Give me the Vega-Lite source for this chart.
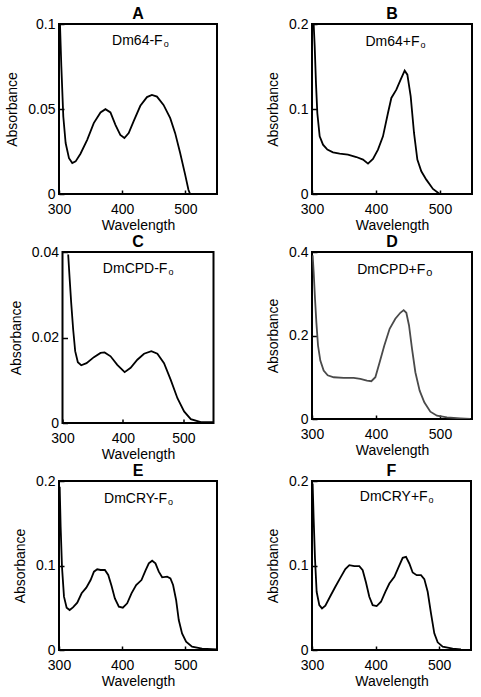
{
  "$schema": "https://vega.github.io/schema/vega-lite/v6.json",
  "background": "white",
  "padding": {"left": 4, "top": 5, "right": 5, "bottom": 5},
  "datasets": {
    "A": [
      {"wl": 301.6, "abs": 0.0994}, {"wl": 303.7, "abs": 0.075}, {"wl": 306.8, "abs": 0.0456}, {"wl": 310.5, "abs": 0.030},
      {"wl": 315.8, "abs": 0.0211}, {"wl": 321, "abs": 0.0182}, {"wl": 326.3, "abs": 0.0192}, {"wl": 334, "abs": 0.0237},
      {"wl": 344.6, "abs": 0.0319}, {"wl": 355, "abs": 0.0417}, {"wl": 365.7, "abs": 0.048}, {"wl": 373.5, "abs": 0.0499},
      {"wl": 381.4, "abs": 0.048}, {"wl": 389.3, "abs": 0.0407}, {"wl": 397, "abs": 0.0348}, {"wl": 403.5, "abs": 0.0329},
      {"wl": 410.3, "abs": 0.0358}, {"wl": 418, "abs": 0.0427}, {"wl": 428.7, "abs": 0.0519}, {"wl": 439.2, "abs": 0.057},
      {"wl": 447, "abs": 0.0583}, {"wl": 455, "abs": 0.0573}, {"wl": 465.4, "abs": 0.0524}, {"wl": 476, "abs": 0.0446},
      {"wl": 483.8, "abs": 0.0358}, {"wl": 491.7, "abs": 0.0241}, {"wl": 499.6, "abs": 0.0114}, {"wl": 504.8, "abs": 0.0025},
      {"wl": 507.5, "abs": 0}
    ],
    "B": [
      {"wl": 302.6, "abs": 0.2}, {"wl": 304.2, "abs": 0.174}, {"wl": 306.2, "abs": 0.1306}, {"wl": 308.3, "abs": 0.0953},
      {"wl": 312, "abs": 0.0678}, {"wl": 317.2, "abs": 0.058}, {"wl": 324, "abs": 0.0522}, {"wl": 332.8, "abs": 0.049},
      {"wl": 343.2, "abs": 0.0475}, {"wl": 356.2, "abs": 0.0463}, {"wl": 369.3, "abs": 0.0435}, {"wl": 379.7, "abs": 0.0404},
      {"wl": 387.5, "abs": 0.0357}, {"wl": 395.3, "abs": 0.0412}, {"wl": 403.1, "abs": 0.0522}, {"wl": 410.9, "abs": 0.0678},
      {"wl": 418.7, "abs": 0.0953}, {"wl": 424, "abs": 0.113}, {"wl": 431.8, "abs": 0.1227}, {"wl": 438.5, "abs": 0.1345},
      {"wl": 444.8, "abs": 0.1451}, {"wl": 449, "abs": 0.1404}, {"wl": 454.2, "abs": 0.1149}, {"wl": 459.4, "abs": 0.0718},
      {"wl": 464.6, "abs": 0.0404}, {"wl": 470.8, "abs": 0.0267}, {"wl": 478.6, "abs": 0.0169}, {"wl": 489, "abs": 0.0059},
      {"wl": 499.5, "abs": 0}
    ],
    "C": [
      {"wl": 309.4, "abs": 0.0394}, {"wl": 311.6, "abs": 0.0343}, {"wl": 314.4, "abs": 0.0281}, {"wl": 317.7, "abs": 0.0218},
      {"wl": 321, "abs": 0.0168}, {"wl": 325.4, "abs": 0.0142}, {"wl": 331, "abs": 0.0135}, {"wl": 339.8, "abs": 0.014},
      {"wl": 352, "abs": 0.0154}, {"wl": 363, "abs": 0.0164}, {"wl": 369.7, "abs": 0.0165}, {"wl": 379.6, "abs": 0.0156},
      {"wl": 390.7, "abs": 0.0136}, {"wl": 402.9, "abs": 0.0119}, {"wl": 412.8, "abs": 0.0129}, {"wl": 423.9, "abs": 0.0148},
      {"wl": 435, "abs": 0.0162}, {"wl": 447.1, "abs": 0.0168}, {"wl": 457.1, "abs": 0.0162}, {"wl": 468.1, "abs": 0.014},
      {"wl": 479.2, "abs": 0.0101}, {"wl": 490.3, "abs": 0.0058}, {"wl": 501.3, "abs": 0.0027}, {"wl": 512.4, "abs": 0.0009},
      {"wl": 529, "abs": 0.0002}, {"wl": 550, "abs": 0.0002}
    ],
    "D": [
      {"wl": 301, "abs": 0.392}, {"wl": 302.6, "abs": 0.352}, {"wl": 304.7, "abs": 0.288}, {"wl": 306.8, "abs": 0.232},
      {"wl": 309.4, "abs": 0.176}, {"wl": 313, "abs": 0.14}, {"wl": 318.2, "abs": 0.116}, {"wl": 324.5, "abs": 0.1048},
      {"wl": 333.9, "abs": 0.1}, {"wl": 349.5, "abs": 0.0984}, {"wl": 365.1, "abs": 0.0984}, {"wl": 375.5, "abs": 0.096},
      {"wl": 385.9, "abs": 0.092}, {"wl": 392.7, "abs": 0.0904}, {"wl": 399, "abs": 0.1}, {"wl": 405.7, "abs": 0.136},
      {"wl": 413, "abs": 0.176}, {"wl": 421.3, "abs": 0.216}, {"wl": 430.2, "abs": 0.24}, {"wl": 438, "abs": 0.2544},
      {"wl": 443.2, "abs": 0.2608}, {"wl": 447.4, "abs": 0.2544}, {"wl": 451.6, "abs": 0.224}, {"wl": 456.3, "abs": 0.168},
      {"wl": 461.5, "abs": 0.112}, {"wl": 468.2, "abs": 0.068}, {"wl": 475.5, "abs": 0.04}, {"wl": 484.9, "abs": 0.0176},
      {"wl": 495.3, "abs": 0.008}, {"wl": 510.9, "abs": 0.004}, {"wl": 531.8, "abs": 0.0016}, {"wl": 547.4, "abs": 0}
    ],
    "E": [
      {"wl": 301.1, "abs": 0.1933}, {"wl": 302.6, "abs": 0.146}, {"wl": 304.7, "abs": 0.0986}, {"wl": 307.9, "abs": 0.0631},
      {"wl": 312.1, "abs": 0.0501}, {"wl": 316.8, "abs": 0.0473}, {"wl": 322.1, "abs": 0.0505}, {"wl": 328.9, "abs": 0.056},
      {"wl": 335.8, "abs": 0.0671}, {"wl": 343.2, "abs": 0.0738}, {"wl": 350, "abs": 0.0828}, {"wl": 355.3, "abs": 0.0927},
      {"wl": 360.5, "abs": 0.0955}, {"wl": 365.8, "abs": 0.0947}, {"wl": 372.6, "abs": 0.0947}, {"wl": 377.9, "abs": 0.0888},
      {"wl": 383.2, "abs": 0.0757}, {"wl": 388.4, "abs": 0.0611}, {"wl": 394.7, "abs": 0.0513}, {"wl": 401, "abs": 0.0501},
      {"wl": 407.9, "abs": 0.0552}, {"wl": 414.7, "abs": 0.0671}, {"wl": 422.1, "abs": 0.0769}, {"wl": 430.5, "abs": 0.0828},
      {"wl": 436.8, "abs": 0.0939}, {"wl": 442.1, "abs": 0.1026}, {"wl": 447.4, "abs": 0.1057}, {"wl": 452.6, "abs": 0.1026},
      {"wl": 457.9, "abs": 0.0927}, {"wl": 463.2, "abs": 0.086}, {"wl": 471.1, "abs": 0.0868}, {"wl": 476.3, "abs": 0.0848},
      {"wl": 480.5, "abs": 0.0769}, {"wl": 485.3, "abs": 0.0592}, {"wl": 489.5, "abs": 0.0355}, {"wl": 494.7, "abs": 0.0197},
      {"wl": 501.1, "abs": 0.0099}, {"wl": 510.5, "abs": 0.0039}, {"wl": 526.3, "abs": 0.0016}, {"wl": 550, "abs": 0.0008}
    ],
    "F": [
      {"wl": 301, "abs": 0.1969}, {"wl": 302.6, "abs": 0.1555}, {"wl": 304.7, "abs": 0.1083}, {"wl": 307.3, "abs": 0.0689},
      {"wl": 311.5, "abs": 0.0531}, {"wl": 315.7, "abs": 0.0492}, {"wl": 321, "abs": 0.0524}, {"wl": 328.3, "abs": 0.063},
      {"wl": 336.7, "abs": 0.0748}, {"wl": 344.5, "abs": 0.0854}, {"wl": 352.4, "abs": 0.0957}, {"wl": 358.7, "abs": 0.1004},
      {"wl": 366.6, "abs": 0.0992}, {"wl": 374.4, "abs": 0.0992}, {"wl": 379.7, "abs": 0.0945}, {"wl": 384.9, "abs": 0.0799},
      {"wl": 390.1, "abs": 0.063}, {"wl": 395.4, "abs": 0.0531}, {"wl": 401.7, "abs": 0.052}, {"wl": 408.5, "abs": 0.0571},
      {"wl": 415.3, "abs": 0.0689}, {"wl": 421.6, "abs": 0.0787}, {"wl": 429.5, "abs": 0.0866}, {"wl": 436.3, "abs": 0.0984},
      {"wl": 442.6, "abs": 0.1091}, {"wl": 447.8, "abs": 0.1102}, {"wl": 453, "abs": 0.1024}, {"wl": 458.3, "abs": 0.0917},
      {"wl": 464.6, "abs": 0.0886}, {"wl": 471.4, "abs": 0.0886}, {"wl": 476.6, "abs": 0.0839}, {"wl": 481.9, "abs": 0.0689},
      {"wl": 487.1, "abs": 0.0433}, {"wl": 492.3, "abs": 0.0197}, {"wl": 497.6, "abs": 0.0091}, {"wl": 505.5, "abs": 0.0039},
      {"wl": 521.2, "abs": 0.0016}, {"wl": 534.3, "abs": 0.0008}
    ]
  },
  "columns": 2,
  "spacing": {"row": 58, "column": 95},
  "bounds": "flush",
  "center": true,
  "concat": [
    {
      "title": "A", "width": 158, "height": 170,
      "layer": [
        {"data": {"name": "A"}, "mark": {"type": "line", "color": "black", "strokeWidth": 1.8, "clip": true},
         "encoding": {
           "x": {"field": "wl", "type": "quantitative", "title": "Wavelength", "scale": {"domain": [300, 550], "nice": false},
                 "axis": {"values": [300, 350, 400, 450, 500, 550], "labelExpr": "datum.value % 100 == 0 && datum.value < 550 ? datum.label : ''"}},
           "y": {"field": "abs", "type": "quantitative", "title": "Absorbance", "scale": {"domain": [0, 0.1], "nice": false},
                 "axis": {"values": [0, 0.05, 0.1], "format": "~g"}}}},
        {"data": {"values": [{}]}, "mark": {"type": "text", "align": "right", "baseline": "alphabetic", "fontSize": 14},
         "encoding": {"x": {"datum": 464}, "y": {"datum": 0.0874}, "text": {"value": "Dm64-F"}}},
        {"data": {"values": [{}]}, "mark": {"type": "text", "align": "left", "baseline": "alphabetic", "fontSize": 9, "dx": 1, "dy": 2},
         "encoding": {"x": {"datum": 464}, "y": {"datum": 0.0874}, "text": {"value": "o"}}}
      ]
    },
    {
      "title": "B", "width": 160, "height": 170,
      "layer": [
        {"data": {"name": "B"}, "mark": {"type": "line", "color": "black", "strokeWidth": 1.8, "clip": true},
         "encoding": {
           "x": {"field": "wl", "type": "quantitative", "title": "Wavelength", "scale": {"domain": [300, 550], "nice": false},
                 "axis": {"values": [300, 350, 400, 450, 500, 550], "labelExpr": "datum.value % 100 == 0 && datum.value < 550 ? datum.label : ''"}},
           "y": {"field": "abs", "type": "quantitative", "title": "Absorbance", "scale": {"domain": [0, 0.2], "nice": false},
                 "axis": {"values": [0, 0.1, 0.2], "format": "~g"}}}},
        {"data": {"values": [{}]}, "mark": {"type": "text", "align": "right", "baseline": "alphabetic", "fontSize": 14},
         "encoding": {"x": {"datum": 468}, "y": {"datum": 0.1745}, "text": {"value": "Dm64+F"}}},
        {"data": {"values": [{}]}, "mark": {"type": "text", "align": "left", "baseline": "alphabetic", "fontSize": 9, "dx": 1, "dy": 2},
         "encoding": {"x": {"datum": 468}, "y": {"datum": 0.1745}, "text": {"value": "o"}}}
      ]
    },
    {
      "title": "C", "width": 151, "height": 171,
      "layer": [
        {"data": {"name": "C"}, "mark": {"type": "line", "color": "black", "strokeWidth": 1.8, "clip": true},
         "encoding": {
           "x": {"field": "wl", "type": "quantitative", "title": "Wavelength", "scale": {"domain": [300, 550], "nice": false},
                 "axis": {"values": [300, 350, 400, 450, 500, 550], "labelExpr": "datum.value % 100 == 0 && datum.value < 550 ? datum.label : ''"}},
           "y": {"field": "abs", "type": "quantitative", "title": "Absorbance", "scale": {"domain": [0, 0.04], "nice": false},
                 "axis": {"values": [0, 0.02, 0.04], "format": "~g"}}}},
        {"data": {"values": [{}]}, "mark": {"type": "text", "align": "right", "baseline": "alphabetic", "fontSize": 14},
         "encoding": {"x": {"datum": 473.7}, "y": {"datum": 0.0351}, "text": {"value": "DmCPD-F"}}},
        {"data": {"values": [{}]}, "mark": {"type": "text", "align": "left", "baseline": "alphabetic", "fontSize": 9, "dx": 1, "dy": 2},
         "encoding": {"x": {"datum": 473.7}, "y": {"datum": 0.0351}, "text": {"value": "o"}}}
      ]
    },
    {
      "title": "D", "width": 160, "height": 167,
      "layer": [
        {"data": {"name": "D"}, "mark": {"type": "line", "color": "#4a4a4a", "strokeWidth": 1.8, "clip": true},
         "encoding": {
           "x": {"field": "wl", "type": "quantitative", "title": "Wavelength", "scale": {"domain": [300, 550], "nice": false},
                 "axis": {"values": [300, 350, 400, 450, 500, 550], "labelExpr": "datum.value % 100 == 0 && datum.value < 550 ? datum.label : ''"}},
           "y": {"field": "abs", "type": "quantitative", "title": "Absorbance", "scale": {"domain": [0, 0.4], "nice": false},
                 "axis": {"values": [0, 0.2, 0.4], "format": "~g"}}}},
        {"data": {"values": [{}]}, "mark": {"type": "text", "align": "right", "baseline": "alphabetic", "fontSize": 14},
         "encoding": {"x": {"datum": 477}, "y": {"datum": 0.348}, "text": {"value": "DmCPD+F"}}},
        {"data": {"values": [{}]}, "mark": {"type": "text", "align": "left", "baseline": "alphabetic", "fontSize": 11, "dx": 1, "dy": 2},
         "encoding": {"x": {"datum": 477}, "y": {"datum": 0.348}, "text": {"value": "o"}}}
      ]
    },
    {
      "title": "E", "width": 158, "height": 169,
      "layer": [
        {"data": {"name": "E"}, "mark": {"type": "line", "color": "black", "strokeWidth": 1.8, "clip": true},
         "encoding": {
           "x": {"field": "wl", "type": "quantitative", "title": "Wavelength", "scale": {"domain": [300, 550], "nice": false},
                 "axis": {"values": [300, 350, 400, 450, 500, 550], "labelExpr": "datum.value % 100 == 0 && datum.value < 550 ? datum.label : ''"}},
           "y": {"field": "abs", "type": "quantitative", "title": "Absorbance", "scale": {"domain": [0, 0.2], "nice": false},
                 "axis": {"values": [0, 0.1, 0.2], "format": "~g"}}}},
        {"data": {"values": [{}]}, "mark": {"type": "text", "align": "right", "baseline": "alphabetic", "fontSize": 14},
         "encoding": {"x": {"datum": 471}, "y": {"datum": 0.1736}, "text": {"value": "DmCRY-F"}}},
        {"data": {"values": [{}]}, "mark": {"type": "text", "align": "left", "baseline": "alphabetic", "fontSize": 9, "dx": 1, "dy": 2},
         "encoding": {"x": {"datum": 471}, "y": {"datum": 0.1736}, "text": {"value": "o"}}}
      ]
    },
    {
      "title": "F", "width": 159, "height": 169,
      "layer": [
        {"data": {"name": "F"}, "mark": {"type": "line", "color": "black", "strokeWidth": 1.8, "clip": true},
         "encoding": {
           "x": {"field": "wl", "type": "quantitative", "title": "Wavelength", "scale": {"domain": [300, 550], "nice": false},
                 "axis": {"values": [300, 350, 400, 450, 500, 550], "labelExpr": "datum.value % 100 == 0 && datum.value < 550 ? datum.label : ''"}},
           "y": {"field": "abs", "type": "quantitative", "title": "Absorbance", "scale": {"domain": [0, 0.2], "nice": false},
                 "axis": {"values": [0, 0.1, 0.2], "format": "~g"}}}},
        {"data": {"values": [{}]}, "mark": {"type": "text", "align": "right", "baseline": "alphabetic", "fontSize": 14},
         "encoding": {"x": {"datum": 481.8}, "y": {"datum": 0.176}, "text": {"value": "DmCRY+F"}}},
        {"data": {"values": [{}]}, "mark": {"type": "text", "align": "left", "baseline": "alphabetic", "fontSize": 9, "dx": 1, "dy": 2},
         "encoding": {"x": {"datum": 481.8}, "y": {"datum": 0.176}, "text": {"value": "o"}}}
      ]
    }
  ],
  "config": {
    "font": "Liberation Sans",
    "view": {"stroke": "black", "strokeWidth": 2},
    "text": {"font": "Liberation Sans", "color": "black"},
    "axis": {
      "domain": false, "grid": false,
      "labelFont": "Liberation Sans", "labelFontSize": 14, "labelColor": "black",
      "titleFont": "Liberation Sans", "titleFontSize": 14, "titleFontWeight": "normal", "titleColor": "black",
      "tickColor": "black", "tickWidth": 1.5
    },
    "axisX": {"tickSize": -4, "labelPadding": 12, "titlePadding": 2, "labelFlush": false},
    "axisY": {"tickSize": -5, "labelPadding": 9, "titlePadding": 8},
    "title": {"font": "Liberation Sans", "fontSize": 16, "fontWeight": "bold", "color": "black", "offset": -5, "frame": "group"}
  }
}
